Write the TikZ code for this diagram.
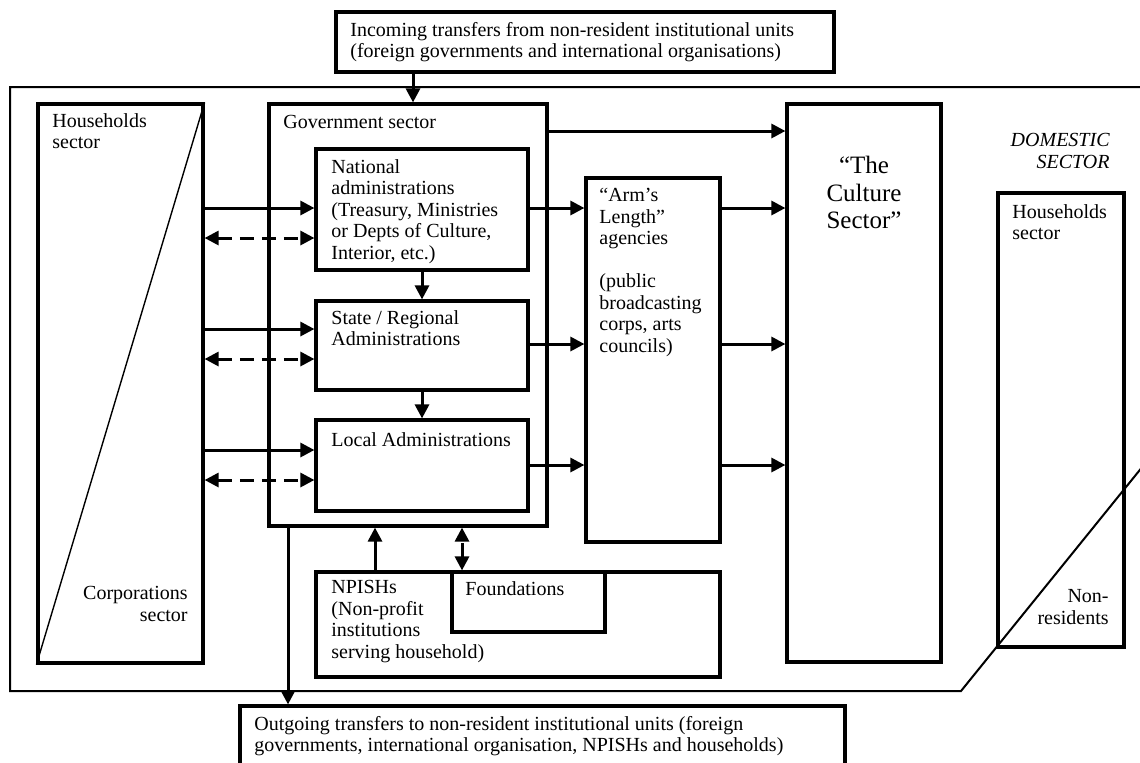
\documentclass[tikz,border=0pt]{standalone}
\usepackage{fontspec}
\setmainfont{Liberation Serif}
\usetikzlibrary{arrows.meta,fit,positioning}

\begin{document}
\begin{tikzpicture}
[x=0.5pt,y=-0.5pt,%
  box/.style={draw,line width=1.6pt,inner sep=0pt},%
  lbl/.style={inner sep=0pt,align=left,anchor=north west,font=\fontsize{10}{10.75}\selectfont,%
    execute at begin node=\strut},%
  rlbl/.style={lbl,align=right,anchor=north east},%
  arr/.style={line width=1.5pt,-{Triangle[length=7pt,width=7pt]}},%
  darr/.style={line width=1.5pt,dash pattern=on 7pt off 4pt,%
    {Triangle[length=7pt,width=7pt]}-{Triangle[length=7pt,width=7pt]}}]
\useasboundingbox (0,0) rectangle (1140,762);
\clip (0,0) rectangle (1140,762);
%% domestic frame
\draw[line width=1pt] (1160,87) -- (10,87) -- (10,691) -- (961,691) -- (1160,445);
%% boxes
\node[box,fit={(336,12) (834,72)}] (incoming) {};
\node[box,fit={(38,104) (203,663)}] (hc) {};
\node[box,fit={(269,104) (547,526)}] (gov) {};
\node[box,fit={(316,149) (528,270)}] (nat) {};
\node[box,fit={(316,301) (528,390)}] (reg) {};
\node[box,fit={(316,420) (528,511)}] (loc) {};
\node[box,fit={(586,178) (720,542)}] (arm) {};
\node[box,fit={(787,104) (941,662)}] (cult) {};
\node[box,fit={(998,193) (1124,647)}] (nonres) {};
\node[box,fit={(316,572) (720,677)}] (npish) {};
\node[box,fit={(452,572) (605,632)}] (found) {};
\node[box,fit={(240,706) (845,780)}] (outgo) {};
\draw[line width=0.7pt] (hc.north east) -- (hc.south west);
%% labels
\node[lbl] (incomingtxt) at (350,22)
  {Incoming transfers from non-resident institutional units\\(foreign governments and international organisations)};
\node[lbl] (hhtxt) at (52,113) {Households\\sector};
\node[rlbl] (corptxt) at (188,586) {Corporations\\sector};
\node[lbl] (govtxt) at (283,113) {Government sector};
\node[lbl] (nattxt) at (331,159)
  {National\\administrations\\(Treasury, Ministries\\or Depts of Culture,\\Interior, etc.)};
\node[lbl] (regtxt) at (331,310) {State / Regional\\Administrations};
\node[lbl] (loctxt) at (331,431) {Local Administrations};
\node[lbl] (armtxt) at (599,188)
  {“Arm’s\\Length”\\agencies\\[10.75pt](public\\broadcasting\\corps, arts\\councils)};
\node[inner sep=0pt,align=center,anchor=north,font=\fontsize{12.5}{13.75}\selectfont,%
  execute at begin node=\strut] (culttxt) at (864,156) {“The\\Culture\\Sector”};
\node[rlbl,font=\fontsize{10}{10.75}\selectfont\itshape] (domtxt) at (1110,133) {DOMESTIC\\SECTOR};
\node[lbl] (nrhhtxt) at (1012,204) {Households\\sector};
\node[rlbl] (nrtxt) at (1109,589) {Non-\\residents};
\node[lbl] (npishtxt) at (331,580)
  {NPISHs\\(Non-profit\\institutions\\serving household)};
\node[lbl] (foundtxt) at (465,580) {Foundations};
\node[lbl] (outgotxt) at (254,716)
  {Outgoing transfers to non-resident institutional units (foreign\\governments, international organisation, NPISHs and households)};
%% flows
\foreach \adm/\ys/\yd in {nat/208/238, reg/329/359, loc/450/480}
{
  \draw[arr] (hc.east |- 0,\ys) -- (\adm.west |- 0,\ys);
  \draw[darr] (hc.east |- 0,\yd) -- (\adm.west |- 0,\yd);
}
\foreach \adm/\y in {nat/208, reg/344, loc/465}
{
  \draw[arr] (\adm.east |- 0,\y) -- (arm.west |- 0,\y);
  \draw[arr] (arm.east |- 0,\y) -- (cult.west |- 0,\y);
}
\draw[arr] (gov.east |- 0,131) -- (cult.west |- 0,131);
\draw[arr] (nat.south) -- (reg.north);
\draw[arr] (reg.south) -- (loc.north);
\draw[arr] (incoming.south -| 413,0) -- (gov.north -| 413,0);
\draw[arr] (gov.south -| 288,0) -- (outgo.north -| 288,0);
\draw[arr] (npish.north -| 375,0) -- (gov.south -| 375,0);
\draw[darr] (found.north -| 462,0) -- (gov.south -| 462,0);
\end{tikzpicture}
\end{document}
